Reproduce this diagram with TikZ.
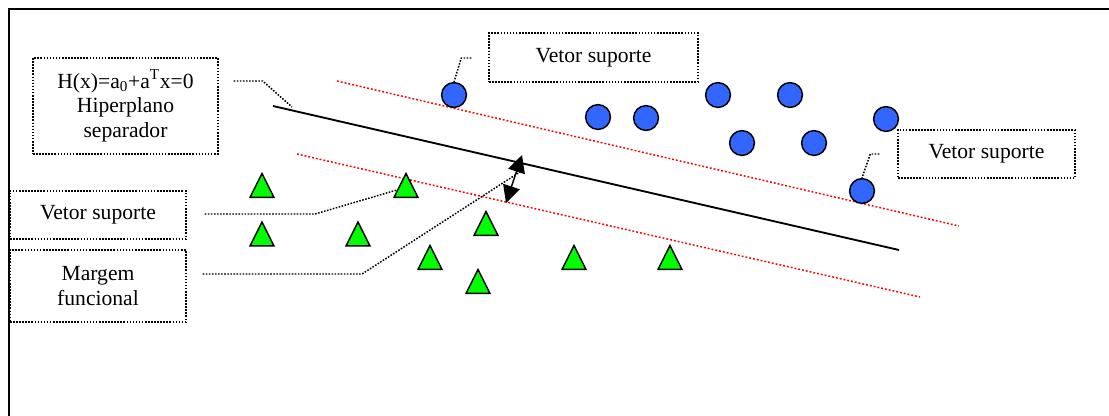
\documentclass[tikz,border=0pt]{standalone}
\usepackage{fontspec}
\setmainfont{Liberation Serif}
\usetikzlibrary{shapes.geometric,arrows.meta}

\tikzset{
  lbl/.style={draw, line width=1.1pt, dash pattern=on 1.2pt off 1.1pt,
    align=center, inner sep=0pt, font=\fontsize{16.2}{18.4}\selectfont},
  leader/.style={line width=1.1pt, dash pattern=on 1.2pt off 1.1pt},
  margin/.style={red, line width=1.1pt, dash pattern=on 1.4pt off 1.5pt},
  plane/.style={black, line width=1.4pt},
  classA/.style={circle, draw, line width=1.1pt, fill={rgb,255:red,51;green,102;blue,255},
    minimum size=18.6pt, inner sep=0pt},
  classB/.style={isosceles triangle, isosceles triangle stretches=true,
    shape border rotate=90, draw, line width=1.1pt, fill={rgb,255:red,0;green,255;blue,0},
    minimum width=18pt, minimum height=18pt, inner sep=0pt},
  gap/.style={-{Triangle[width=13pt,length=13pt]}, line width=1.1pt}
}

\begin{document}
\begin{tikzpicture}[x=0.75pt, y=-0.75pt]
  \useasboundingbox (0,0) rectangle (1109,415);

  % outer frame
  \draw[line width=1.7pt] (9,430) -- (9,9) -- (1130,9);

  % margins and separating hyperplane
  \coordinate (mu1) at (337,81);  \coordinate (mu2) at (959,226);
  \coordinate (ml1) at (297,154); \coordinate (ml2) at (920,297);
  \coordinate (h1)  at (273,106); \coordinate (h2)  at (899,250);
  \draw[margin] (mu1) -- (mu2);
  \draw[margin] (ml1) -- (ml2);
  \draw[plane] (h1) -- (h2);

  % functional margin arrow
  \coordinate (ga) at (506,203);
  \coordinate (gb) at (522,155);
  \draw[gap] (514,179) -- (gb);
  \draw[gap] (514,179) -- (ga);

  % class of circles
  \node[classA] (c1)  at (454,95)  {};
  \node[classA] (c2)  at (598,117) {};
  \node[classA] (c3)  at (646,118) {};
  \node[classA] (c4)  at (718,95)  {};
  \node[classA] (c5)  at (742,143) {};
  \node[classA] (c6)  at (790,95)  {};
  \node[classA] (c7)  at (814,143) {};
  \node[classA] (c8)  at (886,119) {};
  \node[classA] (c9)  at (862,191) {};

  % class of triangles
  \node[classB] (t1) at (262,190) {};
  \node[classB] (t2) at (406,190) {};
  \node[classB] (t3) at (262,238.5) {};
  \node[classB] (t4) at (358,238.5) {};
  \node[classB] (t5) at (486,228) {};
  \node[classB] (t6) at (430,262) {};
  \node[classB] (t7) at (574,262) {};
  \node[classB] (t8) at (670,262) {};
  \node[classB] (t9) at (478,286) {};

  % labels
  \node[lbl, minimum width=138.75pt, minimum height=72pt] (bh) at (125.5,106)
    {H(x)=a\textsubscript{0}+a\textsuperscript{T}x=0\\Hiperplano\\separador};
  \node[lbl, minimum width=132pt, minimum height=36pt] (bv1) at (98,215) {Vetor suporte};
  \node[lbl, minimum width=132pt, minimum height=54pt] (bm) at (98,286)
    {Margem\\funcional};
  \node[lbl, minimum width=156.75pt, minimum height=36.75pt] (bv2) at (593.5,57.5) {Vetor suporte};
  \node[lbl, minimum width=132.75pt, minimum height=36pt] (bv3) at (986.5,154) {Vetor suporte};

  % leaders from the labels
  \coordinate (gm) at (523,170);
  \draw[leader] (bh.east)  ++(15,-25) -- ++(29,0) -- (292,107);
  \draw[leader] (bv1.east) ++(18,-1) -- (315,214) -- (t2.west);
  \draw[leader] (bm.east)  ++(16,-12) -- (362,274) -- (gm);
  \draw[leader] (bv2.west) ++(-17,0.5) -- ++(-10,0) -- (c1.north);
  \draw[leader] (bv3.west) ++(-18,0) -- ++(-9,0) -- (c9.north);
\end{tikzpicture}
\end{document}
